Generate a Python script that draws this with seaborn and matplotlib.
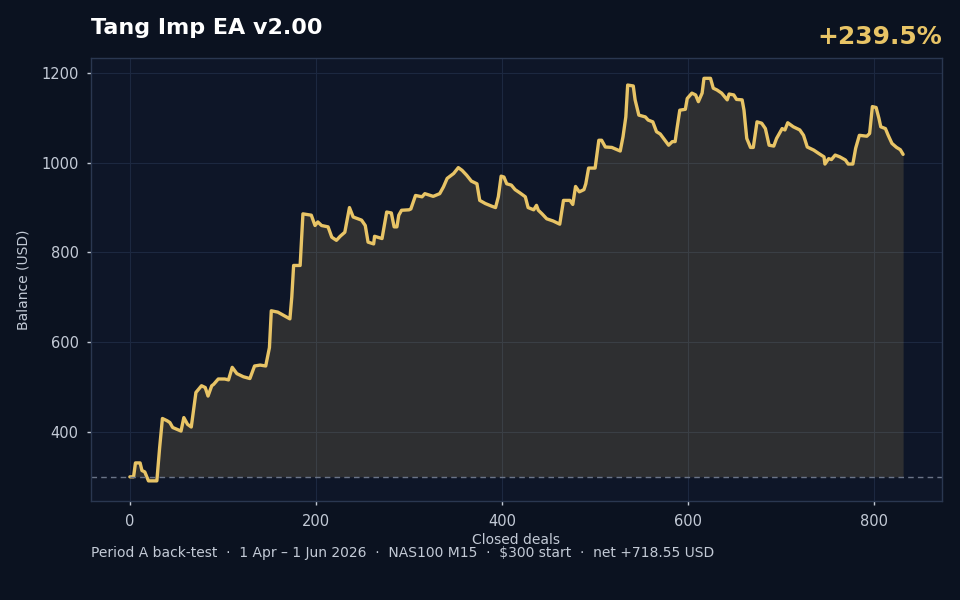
"""
Equity curve of the Tang Imp EA v2.00 back-test (Period A).
"""

# ================== IMPORTS ================== #
import pandas as pd
import matplotlib
matplotlib.use("Agg")
import matplotlib.pyplot as plt
import seaborn as sns

# ================== DATA ================== #
deals = [
    0, 4, 6, 11, 13, 16, 20, 29, 32, 35, 40, 43, 46, 55, 58, 62, 66, 71, 77, 81,
    84, 88, 90, 95, 102, 106, 110, 115, 122, 129, 134, 140, 146, 150, 152, 159,
    172, 174, 176, 183, 186, 195, 199, 202, 206, 213, 217, 222, 226, 231, 236,
    240, 249, 253, 256, 262, 263, 271, 276, 281, 284, 287, 289, 292, 300, 302,
    307, 314, 317, 326, 333, 337, 341, 348, 353, 357, 362, 367, 373, 376, 382,
    389, 393, 396, 399, 402, 405, 410, 414, 419, 425, 428, 434, 437, 439, 443,
    448, 455, 462, 466, 473, 476, 479, 483, 488, 490, 493, 500, 504, 507, 511,
    518, 527, 530, 533, 535, 541, 543, 547, 554, 557, 562, 566, 570, 575, 579,
    583, 586, 588, 591, 597, 599, 604, 608, 611, 615, 617, 624, 627, 631, 636,
    642, 644, 649, 652, 658, 660, 663, 667, 670, 674, 679, 683, 687, 692, 695,
    698, 701, 704, 707, 713, 720, 724, 728, 735, 740, 746, 747, 751, 754, 758,
    763, 769, 772, 777, 780, 784, 792, 795, 798, 802, 805, 807, 812, 815, 819,
    824, 828, 831,
]
balance = [
    300, 300, 331, 331, 314, 311, 291, 291, 365, 430, 425, 421, 410, 402, 432,
    417, 411, 488, 503, 499, 480, 503, 506, 518, 518, 516, 544, 530, 523, 519,
    547, 549, 547, 588, 670, 667, 652, 700, 771, 771, 886, 883, 860, 868, 860,
    857, 834, 827, 836, 845, 900, 879, 872, 860, 823, 819, 836, 831, 890, 888,
    857, 857, 883, 894, 895, 897, 927, 924, 931, 925, 931, 946, 965, 976, 989,
    983, 972, 959, 953, 916, 909, 903, 900, 924, 970, 968, 953, 950, 940, 933,
    924, 900, 895, 905, 894, 886, 875, 870, 863, 916, 916, 907, 947, 935, 940,
    953, 988, 988, 1050, 1050, 1035, 1034, 1026, 1058, 1102, 1173, 1171, 1140,
    1106, 1102, 1095, 1091, 1069, 1064, 1050, 1039, 1047, 1047, 1076, 1117, 1119,
    1143, 1155, 1151, 1136, 1155, 1188, 1188, 1166, 1162, 1155, 1140, 1153, 1151,
    1141, 1140, 1117, 1054, 1034, 1034, 1091, 1088, 1076, 1039, 1037, 1054, 1065,
    1076, 1073, 1089, 1080, 1073, 1061, 1035, 1028, 1021, 1013, 997, 1009, 1007,
    1017, 1013, 1006, 997, 997, 1032, 1061, 1059, 1065, 1125, 1123, 1099, 1080,
    1076, 1061, 1043, 1034, 1029, 1018.55,
]
start_balance = 300
title = "Tang Imp EA v2.00"
gain_label = "+239.5%"
footer = ("Period A back-test  \u00b7  1 Apr \u2013 1 Jun 2026  \u00b7  NAS100 M15  "
          "\u00b7  $300 start  \u00b7  net +718.55 USD")

df = pd.DataFrame({"deal": deals, "balance": balance})

# ================== CORES ================== #
BG_FIG = "#0b1220"
BG_AX = "#0e1628"
GRID = "#1c2840"
SPINE = "#2a3750"
TEXT = "#c3cad6"
GOLD = "#e8c466"

sns.set_theme(style="darkgrid", rc={
    "figure.facecolor": BG_FIG,
    "axes.facecolor": BG_AX,
    "axes.edgecolor": SPINE,
    "grid.color": GRID,
    "grid.linewidth": 0.8,
    "axes.labelcolor": TEXT,
    "xtick.color": TEXT,
    "ytick.color": TEXT,
    "xtick.bottom": True,
    "ytick.left": True,
})
plt.rcParams["font.family"] = ["DejaVu Sans"]

# ================== GRÁFICO ================== #
fig, ax = plt.subplots(figsize=(9.6, 6.0), dpi=100)
fig.subplots_adjust(left=0.095, right=0.981, top=0.903, bottom=0.165)

ax.fill_between(df["deal"], df["balance"], start_balance, color=GOLD, alpha=0.15, linewidth=0)
sns.lineplot(data=df, x="deal", y="balance", ax=ax, color=GOLD, linewidth=2.4)
ax.axhline(start_balance, color="#6a7488", linestyle=(0, (4, 3)), linewidth=1)

ax.set_xticks([0, 200, 400, 600, 800])
ax.set_yticks([400, 600, 800, 1000, 1200])
ax.tick_params(labelsize=10.5, length=3, width=1, color=TEXT, pad=6)
for s in ax.spines.values():
    s.set_visible(True)
    s.set_color(SPINE)
    s.set_linewidth(1)

ax.set_xlabel("Closed deals", fontsize=10, labelpad=3)
ax.set_ylabel("Balance (USD)", fontsize=10, labelpad=8)

fig.text(0.095, 0.953, title, color="white", fontsize=16, fontweight="bold", va="center", ha="left")
fig.text(0.981, 0.938, gain_label, color=GOLD, fontsize=18, fontweight="bold", va="center", ha="right")
fig.text(0.095, 0.078, footer, color=TEXT, fontsize=10, va="center", ha="left")

fig.savefig("out.png", dpi=100, facecolor=BG_FIG)
